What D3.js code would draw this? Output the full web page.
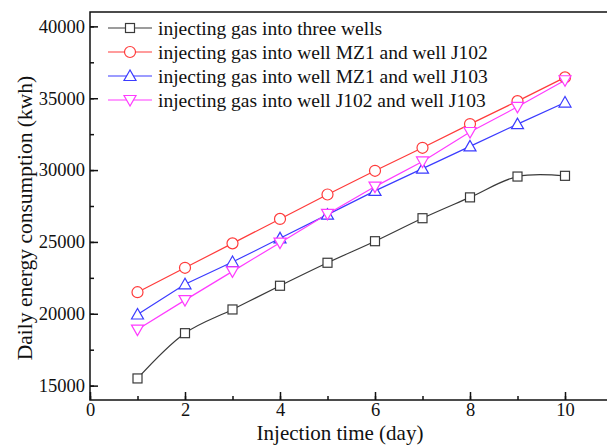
<!DOCTYPE html>
<html>
<head>
<meta charset="utf-8">
<script src="https://cdn.jsdelivr.net/npm/d3@7"></script>
<style>
  body { margin: 0; background: #fff; }
  text { font-family: "Liberation Serif", "Times New Roman", serif; fill: #111; }
</style>
</head>
<body>
<svg width="607" height="445"></svg>
<script>
var days = [1, 2, 3, 4, 5, 6, 7, 8, 9, 10];
var threeWells = [15500, 18650, 20300, 21950, 23550, 25050, 26650, 28100, 29550, 29600];
var mz1J102 = [21500, 23200, 24900, 26600, 28300, 29950, 31550, 33200, 34800, 36450];
var mz1J103 = [19950, 22050, 23600, 25250, 26900, 28550, 30100, 31650, 33200, 34700];
var j102J103 = [18900, 20950, 22950, 24950, 26950, 28850, 30600, 32650, 34400, 36250];
var seriesNames = [
  "injecting gas into three wells",
  "injecting gas into well MZ1 and well J102",
  "injecting gas into well MZ1 and well J103",
  "injecting gas into well J102 and well J103"
];
var xTicks = [0, 2, 4, 6, 8, 10];
var yTicks = [15000, 20000, 25000, 30000, 35000, 40000];

var series = [
  { name: seriesNames[0], values: threeWells, color: "#3a3a3a", symbol: "square", curve: d3.curveCatmullRom },
  { name: seriesNames[1], values: mz1J102, color: "#ff3b3b", symbol: "circle", curve: d3.curveLinear },
  { name: seriesNames[2], values: mz1J103, color: "#3b3bff", symbol: "up", curve: d3.curveLinear },
  { name: seriesNames[3], values: j102J103, color: "#ff3bff", symbol: "down", curve: d3.curveLinear }
];

var svg = d3.select("svg"),
    margin = { left: 90, top: 12, bottom: 45 },
    height = +svg.attr("height") - margin.top - margin.bottom;

var x = d3.scaleLinear().domain([0, 11]).range([margin.left, margin.left + 47.5 * 11]);
var y = d3.scaleLinear().domain([14000, 41000]).range([margin.top + height, margin.top]);

// frame
svg.append("rect")
    .attr("x", x(0)).attr("y", y(41000))
    .attr("width", x(11) - x(0)).attr("height", y(14000) - y(41000))
    .attr("fill", "none").attr("stroke", "#111").attr("stroke-width", 1.5);

// x axis
var xAxis = svg.append("g").attr("transform", "translate(0," + y(14000) + ")");
xAxis.call(d3.axisBottom(x).tickValues(d3.range(0, 11)).tickSize(-4).tickFormat(""))
    .call(function(g) { g.select(".domain").remove(); });
xAxis.selectAll(".tick line").attr("stroke", "#111").attr("stroke-width", 1.5);
var xMajor = svg.append("g").attr("transform", "translate(0," + y(14000) + ")");
xMajor.call(d3.axisBottom(x).tickValues(xTicks).tickSize(-8))
    .call(function(g) { g.select(".domain").remove(); });
xMajor.selectAll(".tick line").attr("stroke", "#111").attr("stroke-width", 1.5);
xMajor.selectAll(".tick text").attr("font-size", 18.5).attr("dy", "0.71em").attr("y", 3);

// y axis
var yMinor = svg.append("g").attr("transform", "translate(" + x(0) + ",0)");
yMinor.call(d3.axisLeft(y).tickValues(d3.range(15000, 41000, 2500)).tickSize(-4).tickFormat(""))
    .call(function(g) { g.select(".domain").remove(); });
yMinor.selectAll(".tick line").attr("stroke", "#111").attr("stroke-width", 1.5);
var yMajor = svg.append("g").attr("transform", "translate(" + x(0) + ",0)");
yMajor.call(d3.axisLeft(y).tickValues(yTicks).tickSize(-8).tickFormat(d3.format("d")))
    .call(function(g) { g.select(".domain").remove(); });
yMajor.selectAll(".tick line").attr("stroke", "#111").attr("stroke-width", 1.5);
yMajor.selectAll(".tick text").attr("font-size", 18.5).attr("x", -5);

svg.append("text")
    .attr("x", 340).attr("y", 440)
    .attr("text-anchor", "middle").attr("font-size", 21)
    .text("Injection time (day)");

svg.append("text")
    .attr("transform", "translate(32,218) rotate(-90)")
    .attr("text-anchor", "middle").attr("font-size", 21.5)
    .text("Daily energy consumption (kwh)");

function drawSymbol(g, type, cx, cy, color) {
  if (type === "square") {
    g.append("rect").attr("x", cx - 4.5).attr("y", cy - 4.5).attr("width", 9).attr("height", 9)
        .attr("fill", "#fff").attr("stroke", color).attr("stroke-width", 1.2);
  } else if (type === "circle") {
    g.append("circle").attr("cx", cx).attr("cy", cy).attr("r", 5.5)
        .attr("fill", "#fff").attr("stroke", color).attr("stroke-width", 1.2);
  } else {
    var s = type === "up" ? 1 : -1;
    var pts = [[cx, cy - 6 * s], [cx - 6, cy + 4.5 * s], [cx + 6, cy + 4.5 * s]];
    g.append("polygon").attr("points", pts.map(function(p) { return p.join(","); }).join(" "))
        .attr("fill", "#fff").attr("stroke", color).attr("stroke-width", 1.2);
  }
}

series.forEach(function(s) {
  var line = d3.line()
      .x(function(d, i) { return x(days[i]); })
      .y(function(d) { return y(d); })
      .curve(s.curve);
  svg.append("path").datum(s.values)
      .attr("d", line).attr("fill", "none")
      .attr("stroke", s.color).attr("stroke-width", 1.2);
});

series.forEach(function(s) {
  var g = svg.append("g");
  s.values.forEach(function(v, i) { drawSymbol(g, s.symbol, x(days[i]), y(v), s.color); });
});

// legend
var legend = svg.append("g");
series.forEach(function(s, i) {
  var ly = 28 + i * 24;
  legend.append("line").attr("x1", 108).attr("x2", 152).attr("y1", ly).attr("y2", ly)
      .attr("stroke", s.color).attr("stroke-width", 1.2);
  drawSymbol(legend, s.symbol, 130, ly, s.color);
  legend.append("text").attr("x", 158).attr("y", ly).attr("dy", "0.35em")
      .attr("font-size", 19.5).text(s.name);
});
</script>
</body>
</html>
